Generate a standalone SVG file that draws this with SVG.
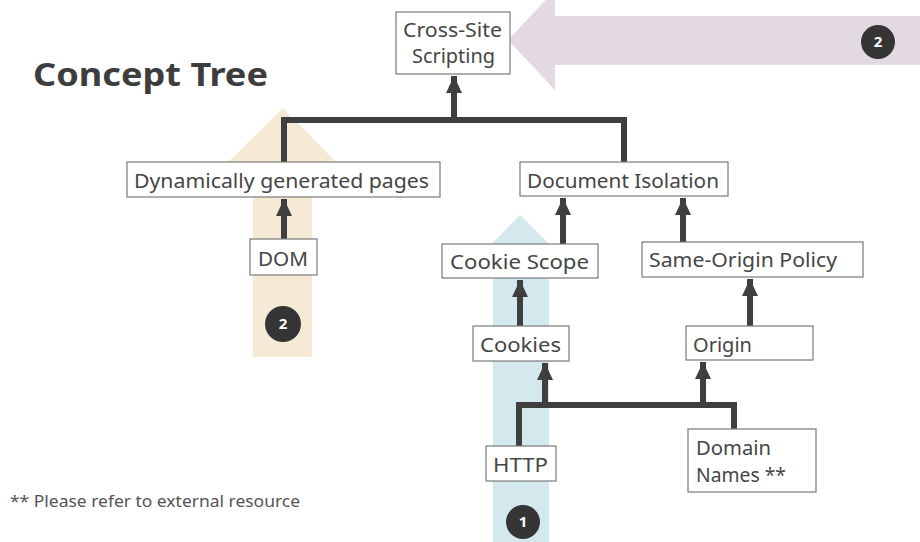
<svg xmlns="http://www.w3.org/2000/svg" width="920" height="542" viewBox="0 0 920 542">
<defs>
<style>
.box{fill:#fff;stroke:#7a7a7a;stroke-width:1.2}
.lbl{font-family:"Noto Sans","Open Sans","Liberation Sans",sans-serif;font-size:20px;fill:#454545}
.wire{fill:none;stroke:#3f3f3f;stroke-width:6;stroke-linejoin:miter}
.badge{fill:#353535}
.bt{font-family:"Noto Sans","Liberation Sans",sans-serif;font-size:15px;font-weight:bold;fill:#fff;text-anchor:middle}
</style>
<marker id="ah" markerUnits="userSpaceOnUse" markerWidth="18" markerHeight="18" viewBox="0 0 18 18" refX="17" refY="9" orient="auto">
<path d="M0,1 L17,9 L0,17 Z" fill="#3f3f3f"/>
</marker>
</defs>
<rect width="920" height="542" fill="#fff"/>
<g id="highlights">
<polygon id="purple-arrow" points="920,16 555,16 555,-10 508,40 555,90 555,65 920,65" fill="#e3d9e3"/>
<polygon id="beige-arrow" points="253,357 253,163 227,163 283,108 337,163 312,163 312,357" fill="#f6ead6"/>
<polygon id="blue-arrow" points="493,542 493,273 463,273 520,215 578,273 549,273 549,542" fill="#d3e9ee"/>
</g>
<text x="33" y="86" font-family="'Noto Sans','Liberation Sans',sans-serif" font-size="33" font-weight="bold" fill="#3d3d3d" textLength="235" lengthAdjust="spacingAndGlyphs">Concept Tree</text>
<g id="connectors">
<polyline class="wire" points="284,163 284,120 624,120 624,163"/>
<line class="wire" x1="454" y1="120" x2="454" y2="76" marker-end="url(#ah)"/>
<line class="wire" x1="284" y1="239" x2="284" y2="199" marker-end="url(#ah)"/>
<line class="wire" x1="563" y1="244" x2="563" y2="198" marker-end="url(#ah)"/>
<line class="wire" x1="683" y1="242" x2="683" y2="198" marker-end="url(#ah)"/>
<line class="wire" x1="520" y1="326" x2="520" y2="280" marker-end="url(#ah)"/>
<line class="wire" x1="750" y1="326" x2="750" y2="279" marker-end="url(#ah)"/>
<polyline class="wire" points="519,446 519,405 734,405 734,429"/>
<line class="wire" x1="545" y1="405" x2="545" y2="363" marker-end="url(#ah)"/>
<line class="wire" x1="703" y1="405" x2="703" y2="362" marker-end="url(#ah)"/>
</g>
<g id="xss"><rect class="box" x="396" y="12" width="114" height="62"/><text class="lbl" x="403" y="37" textLength="99" lengthAdjust="spacingAndGlyphs">Cross-Site</text><text class="lbl" x="412" y="63" textLength="83" lengthAdjust="spacingAndGlyphs">Scripting</text></g>
<g id="dyn"><rect class="box" x="127" y="162" width="313" height="35"/><text class="lbl" x="134" y="188" textLength="295" lengthAdjust="spacingAndGlyphs">Dynamically generated pages</text></g>
<g id="dom"><rect class="box" x="250" y="239" width="67" height="36"/><text class="lbl" x="258" y="266" textLength="50" lengthAdjust="spacingAndGlyphs">DOM</text></g>
<g id="dociso"><rect class="box" x="520" y="162" width="208" height="34"/><text class="lbl" x="527" y="188" textLength="192" lengthAdjust="spacingAndGlyphs">Document Isolation</text></g>
<g id="cookiescope"><rect class="box" x="442" y="244" width="156" height="34"/><text class="lbl" x="450" y="269" textLength="139" lengthAdjust="spacingAndGlyphs">Cookie Scope</text></g>
<g id="sop"><rect class="box" x="642" y="242" width="221" height="35"/><text class="lbl" x="649" y="267" textLength="188" lengthAdjust="spacingAndGlyphs">Same-Origin Policy</text></g>
<g id="cookies"><rect class="box" x="473" y="326" width="96" height="35"/><text class="lbl" x="480" y="352" textLength="81" lengthAdjust="spacingAndGlyphs">Cookies</text></g>
<g id="origin"><rect class="box" x="686" y="326" width="127" height="34"/><text class="lbl" x="693" y="352" textLength="59" lengthAdjust="spacingAndGlyphs">Origin</text></g>
<g id="http"><rect class="box" x="486" y="446" width="70" height="35"/><text class="lbl" x="493" y="472" textLength="55" lengthAdjust="spacingAndGlyphs">HTTP</text></g>
<g id="domain"><rect class="box" x="688" y="429" width="128" height="63"/><text class="lbl" x="696" y="455" textLength="75" lengthAdjust="spacingAndGlyphs">Domain</text><text class="lbl" x="696" y="482" textLength="90" lengthAdjust="spacingAndGlyphs">Names **</text></g>
<g id="badges">
<circle class="badge" cx="878" cy="42" r="17"/><text class="bt" x="878" y="47">2</text>
<circle class="badge" cx="283" cy="324" r="18"/><text class="bt" x="283" y="329">2</text>
<circle class="badge" cx="523" cy="522" r="17"/><text class="bt" x="523" y="527">1</text>
</g>
<text x="10" y="507" font-family="'Noto Sans','Liberation Sans',sans-serif" font-size="16" fill="#555" textLength="290" lengthAdjust="spacingAndGlyphs">** Please refer to external resource</text>
</svg>
